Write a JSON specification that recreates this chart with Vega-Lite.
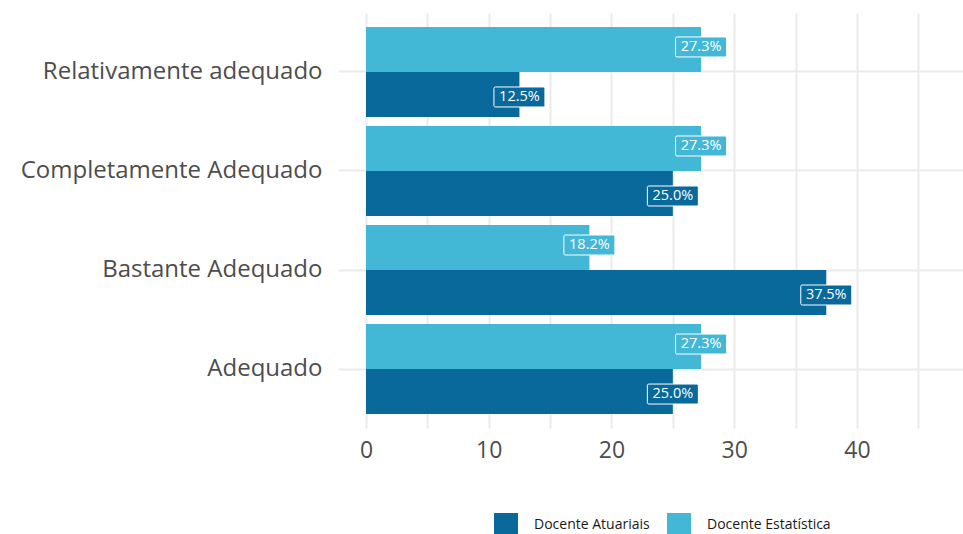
{
  "$schema": "https://vega.github.io/schema/vega-lite/v6.json",
  "width": 597,
  "height": 415,
  "autosize": {"type": "none"},
  "padding": {"left": 366, "top": 13, "right": 0, "bottom": 106},
  "background": "white",
  "config": {
    "view": {"stroke": null},
    "font": "Open Sans"
  },
  "data": {
    "values": [
      {"categoria": "Relativamente adequado", "grupo": "Docente Atuariais", "valor": 12.5, "rotulo": "12.5%"},
      {"categoria": "Relativamente adequado", "grupo": "Docente Estatística", "valor": 27.3, "rotulo": "27.3%"},
      {"categoria": "Completamente Adequado", "grupo": "Docente Atuariais", "valor": 25.0, "rotulo": "25.0%"},
      {"categoria": "Completamente Adequado", "grupo": "Docente Estatística", "valor": 27.3, "rotulo": "27.3%"},
      {"categoria": "Bastante Adequado", "grupo": "Docente Atuariais", "valor": 37.5, "rotulo": "37.5%"},
      {"categoria": "Bastante Adequado", "grupo": "Docente Estatística", "valor": 18.2, "rotulo": "18.2%"},
      {"categoria": "Adequado", "grupo": "Docente Atuariais", "valor": 25.0, "rotulo": "25.0%"},
      {"categoria": "Adequado", "grupo": "Docente Estatística", "valor": 27.3, "rotulo": "27.3%"}
    ]
  },
  "encoding": {
    "y": {
      "field": "categoria",
      "type": "nominal",
      "sort": ["Relativamente adequado", "Completamente Adequado", "Bastante Adequado", "Adequado"],
      "scale": {"paddingInner": 0.0909, "paddingOuter": 0.141},
      "axis": {
        "title": null,
        "domain": false,
        "bandPosition": 0.5,
        "grid": true,
        "gridColor": "#ebebeb",
        "gridWidth": 2,
        "ticks": true,
        "tickSize": 28,
        "tickColor": "#ebebeb",
        "tickWidth": 2,
        "labelFontSize": 24,
        "labelLimit": 400,
        "labelColor": "#4d4d4d",
        "labelPadding": 16,
        "labelFont": "Open Sans"
      }
    },
    "yOffset": {
      "field": "grupo",
      "type": "nominal",
      "sort": ["Docente Estatística", "Docente Atuariais"],
      "scale": {"paddingInner": 0, "paddingOuter": 0}
    },
    "x": {
      "field": "valor",
      "type": "quantitative",
      "scale": {"domain": [0, 48.64], "nice": false, "zero": true},
      "axis": {
        "title": null,
        "domain": false,
        "ticks": false,
        "grid": true,
        "gridColor": "#ebebeb",
        "gridWidth": 2,
        "values": [0, 5, 10, 15, 20, 25, 30, 35, 40, 45],
        "labelExpr": "datum.value % 10 === 0 ? datum.label : ''",
        "labelFlush": false,
        "labelFontSize": 23,
        "labelColor": "#4d4d4d",
        "labelPadding": 11,
        "labelFont": "Open Sans"
      }
    }
  },
  "layer": [
    {
      "mark": {"type": "bar"},
      "encoding": {
        "color": {
          "field": "grupo",
          "type": "nominal",
          "scale": {"domain": ["Docente Atuariais", "Docente Estatística"], "range": ["#08699a", "#42b7d6"]},
          "legend": {
            "title": null,
            "orient": "none",
            "legendX": 128,
            "legendY": 500,
            "direction": "horizontal",
            "symbolType": "square",
            "symbolSize": 576,
            "symbolStrokeWidth": 0,
            "labelFontSize": 14,
            "labelColor": "#1a1a1a",
            "labelOffset": 16,
            "columnPadding": 17,
            "padding": 0,
            "labelFont": "Open Sans"
          }
        }
      }
    },
    {
      "transform": [{"filter": "datum.grupo === 'Docente Estatística'"}],
      "mark": {
        "type": "point", "filled": true, "opacity": 1, "fill": "#42b7d6", "stroke": "white", "strokeWidth": 1, "size": 400,
        "shape": "M-2.4,-1.25L2.4,-1.25Q2.55,-1.25 2.55,-1.1L2.55,0.6Q2.55,0.75 2.4,0.75L-2.4,0.75Q-2.55,0.75 -2.55,0.6L-2.55,-1.1Q-2.55,-1.25 -2.4,-1.25Z"
      },
      "encoding": {}
    },
    {
      "transform": [{"filter": "datum.grupo === 'Docente Atuariais'"}],
      "mark": {
        "type": "point", "filled": true, "opacity": 1, "fill": "#08699a", "stroke": "white", "strokeWidth": 1, "size": 400,
        "shape": "M-2.4,-0.75L2.4,-0.75Q2.55,-0.75 2.55,-0.6L2.55,1.1Q2.55,1.25 2.4,1.25L-2.4,1.25Q-2.55,1.25 -2.55,1.1L-2.55,-0.6Q-2.55,-0.75 -2.4,-0.75Z"
      },
      "encoding": {}
    },
    {
      "transform": [{"filter": "datum.grupo === 'Docente Estatística'"}],
      "mark": {"type": "text", "color": "white", "fontSize": 14.5, "align": "center", "baseline": "middle", "dy": -2.5, "font": "Open Sans"},
      "encoding": {"text": {"field": "rotulo", "type": "nominal"}}
    },
    {
      "transform": [{"filter": "datum.grupo === 'Docente Atuariais'"}],
      "mark": {"type": "text", "color": "white", "fontSize": 14.5, "align": "center", "baseline": "middle", "dy": 2.5, "font": "Open Sans"},
      "encoding": {"text": {"field": "rotulo", "type": "nominal"}}
    }
  ]
}
